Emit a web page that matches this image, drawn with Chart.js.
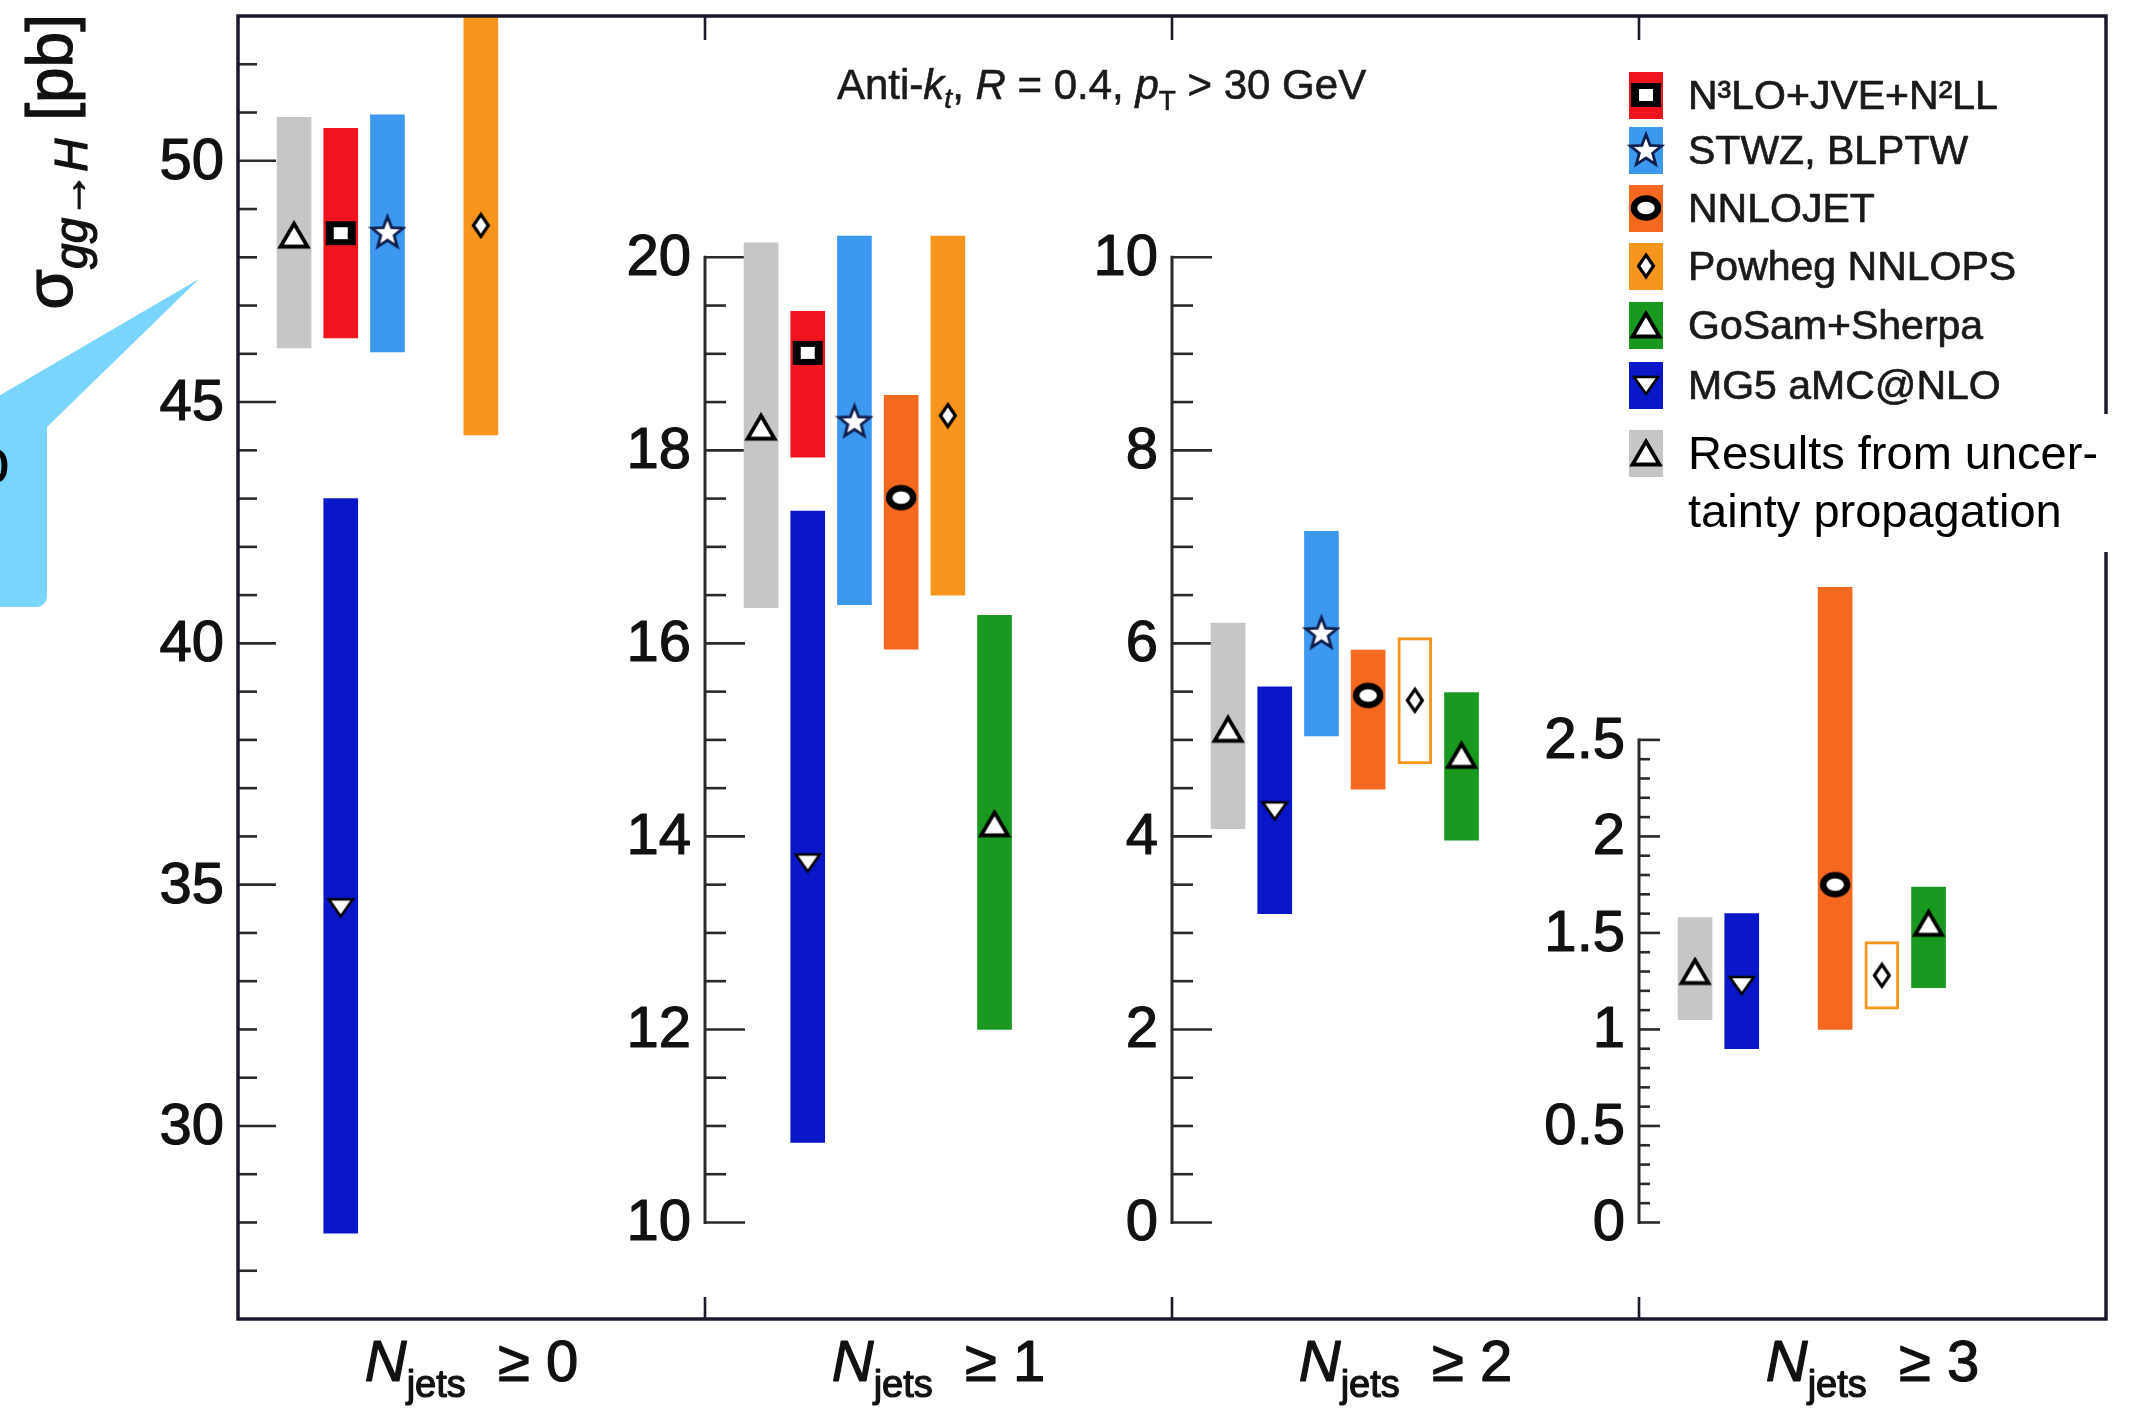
<!DOCTYPE html>
<html>
<head>
<meta charset="utf-8">
<title>Jet-binned gg→H cross sections</title>
<script src="https://cdn.jsdelivr.net/npm/chart.js@4.4.1/dist/chart.umd.min.js"></script>
<style>
  html, body { margin: 0; padding: 0; background: #ffffff; }
  #wrap { width: 2133px; height: 1410px; position: relative; }
</style>
</head>
<body>
<div id="wrap"><canvas id="chart" width="2133" height="1410"></canvas></div>
<script>
// ---------------- data ----------------
const jetBinLabels = ['\u2265 0', '\u2265 1', '\u2265 2', '\u2265 3'];

const modelNames = ['N\u00b3LO+JVE+N\u00b2LL', 'STWZ, BLPTW', 'NNLOJET', 'Powheg NNLOPS', 'GoSam+Sherpa', 'MG5 aMC@NLO'];
const propagationLines = ['Results from uncer-', 'tainty propagation'];

// cross sections in pb, one entry per jet bin (null: no prediction shown)
const n3loCentral = [48.50, 19.01, null, null];
const n3loLow     = [46.33, 17.93, null, null];
const n3loHigh    = [50.67, 19.44, null, null];

const stwzCentral = [48.52, 18.30, 6.11, null];
const stwzLow     = [46.04, 16.40, 5.04, null];
const stwzHigh    = [50.95, 20.22, 7.16, null];

const nnlojetCentral = [null, 17.51, 5.46, 1.75];
const nnlojetLow     = [null, 15.94, 4.49, 1.00];
const nnlojetHigh    = [null, 18.57, 5.93, 3.29];

const powhegCentral = [48.66, 18.36, 5.41, 1.28];
const powhegLow     = [44.32, 16.50, 4.75, 1.105];
const powhegHigh    = [53.20, 20.22, 6.06, 1.455];

const gosamCentral = [null, 14.13, 4.84, 1.55];
const gosamLow     = [null, 12.00, 3.96, 1.216];
const gosamHigh    = [null, 16.29, 5.49, 1.738];

const mg5Central = [34.53, 13.73, 4.27, 1.23];
const mg5Low     = [27.78, 10.83, 3.20, 0.90];
const mg5High    = [43.00, 17.37, 5.55, 1.60];

const propCentral = [48.46, 18.24, 5.11, 1.30];
const propLow     = [46.12, 16.37, 4.08, 1.05];
const propHigh    = [50.90, 20.15, 6.21, 1.58];

// labelled ticks of the four y axes
const yTicks0 = [30, 35, 40, 45, 50];
const yTicks1 = [10, 12, 14, 16, 18, 20];
const yTicks2 = [0, 2, 4, 6, 8, 10];
const yTicks3 = [0, 0.5, 1, 1.5, 2, 2.5];

// ---------------- styling ----------------
const FONT = '"Liberation Sans", Arial, Helvetica, sans-serif';
const INK = '#111111';
const AXIS = '#2a2a2a';
const FRAME = '#1a1a2c';

// one vertical scale per jet bin
const panels = [
  { ticks: yTicks0, min: 26,   max: 53,   minor: 1,   from: 27, to: 52,  majorLen: 38, minorLen: 19, ownLine: false },
  { ticks: yTicks1, min: 9,    max: 22.5, minor: 0.5, from: 10, to: 20,  majorLen: 40, minorLen: 21, ownLine: true },
  { ticks: yTicks2, min: -1,   max: 12.5, minor: 0.5, from: 0,  to: 10,  majorLen: 40, minorLen: 21, ownLine: true },
  { ticks: yTicks3, min: -0.5, max: 6.25, minor: 0.1, from: 0,  to: 2.5, majorLen: 21, minorLen: 11, ownLine: true }
];

// band positions inside a jet bin (in units of the bin width)
const SLOT0 = 0.12, SLOT_STEP = 0.1;

function markerCanvas(w, h, draw) {
  const c = document.createElement('canvas');
  c.width = w; c.height = h;
  const g = c.getContext('2d');
  draw(g, w, h);
  return c;
}

const markers = {
  up: markerCanvas(34, 30, g => {
    g.beginPath(); g.moveTo(17, 3.5); g.lineTo(30.5, 26.5); g.lineTo(3.5, 26.5); g.closePath();
    g.fillStyle = '#fff'; g.fill();
    g.lineWidth = 3.8; g.strokeStyle = '#000'; g.lineJoin = 'miter'; g.stroke();
  }),
  down: markerCanvas(30, 24, g => {
    g.beginPath(); g.moveTo(3, 4); g.lineTo(27, 4); g.lineTo(15, 21); g.closePath();
    g.fillStyle = '#fff'; g.fill();
    g.lineWidth = 2.6; g.strokeStyle = '#000'; g.stroke();
  }),
  square: markerCanvas(32, 28, g => {
    g.fillStyle = '#000'; g.fillRect(1, 2, 30, 24);
    g.fillStyle = '#fff'; g.fillRect(9, 8, 14, 12);
  }),
  star: markerCanvas(38, 38, g => {
    g.beginPath();
    for (let k = 0; k < 10; k++) {
      const r = k % 2 === 0 ? 16.5 : 7;
      const a = -Math.PI / 2 + k * Math.PI / 5;
      const px = 19 + r * Math.cos(a), py = 20 + r * Math.sin(a);
      if (k === 0) g.moveTo(px, py); else g.lineTo(px, py);
    }
    g.closePath();
    g.fillStyle = '#fff'; g.fill();
    g.lineWidth = 2.8; g.strokeStyle = '#0f1f4d'; g.lineJoin = 'miter'; g.stroke();
  }),
  ring: markerCanvas(34, 30, g => {
    g.beginPath(); g.ellipse(17, 15, 12, 9.5, 0, 0, Math.PI * 2);
    g.fillStyle = '#fff'; g.fill();
    g.lineWidth = 6.5; g.strokeStyle = '#000'; g.stroke();
  }),
  diamond: markerCanvas(22, 28, g => {
    g.beginPath(); g.moveTo(11, 3); g.lineTo(18.5, 14); g.lineTo(11, 25); g.lineTo(3.5, 14); g.closePath();
    g.fillStyle = '#fff'; g.fill();
    g.lineWidth = 3.2; g.strokeStyle = '#000'; g.stroke();
  })
};

const series = [
  { central: propCentral,    low: propLow,    high: propHigh,    slot: 0, color: '#c6c6c6', marker: 'up' },
  { central: n3loCentral,    low: n3loLow,    high: n3loHigh,    slot: 1, color: '#f0141f', marker: 'square',  legend: 0 },
  { central: mg5Central,     low: mg5Low,     high: mg5High,     slot: 1, color: '#0a17c8', marker: 'down',    legend: 5 },
  { central: stwzCentral,    low: stwzLow,    high: stwzHigh,    slot: 2, color: '#3d98f0', marker: 'star',    legend: 1 },
  { central: nnlojetCentral, low: nnlojetLow, high: nnlojetHigh, slot: 3, color: '#f4681f', marker: 'ring',    legend: 2 },
  { central: powhegCentral,  low: powhegLow,  high: powhegHigh,  slot: 4, color: '#f7951d', marker: 'diamond', legend: 3, openFromBin: 2 },
  { central: gosamCentral,   low: gosamLow,   high: gosamHigh,   slot: 5, color: '#19991f', marker: 'up',      legend: 4 }
];

// ---------------- datasets ----------------
const datasets = [];
series.forEach(s => {
  for (let b = 0; b < jetBinLabels.length; b++) {
    if (s.central[b] === null) continue;
    const x = b + SLOT0 + SLOT_STEP * s.slot;
    const open = s.openFromBin !== undefined && b >= s.openFromBin;
    datasets.push({
      type: 'bar',
      yAxisID: 'y' + b,
      data: [{ x: x, y: [s.low[b], s.high[b]] }],
      backgroundColor: open ? '#ffffff' : s.color,
      borderColor: s.color,
      borderWidth: open ? 3 : 0,
      borderSkipped: false,
      barThickness: 34,
      grouped: false,
      order: 2
    });
    datasets.push({
      type: 'scatter',
      yAxisID: 'y' + b,
      data: [{ x: x, y: s.central[b] }],
      pointStyle: markers[s.marker],
      pointRadius: 10,
      order: 1
    });
  }
});

// ---------------- drawing helpers ----------------
function fontOf(p) { return (p.italic ? 'italic ' : '') + p.size + 'px ' + FONT; }
function richWidth(ctx, parts) {
  let w = 0;
  parts.forEach(p => { ctx.font = fontOf(p); w += ctx.measureText(p.t).width; });
  return w;
}
// text with a thin outline of its own colour, for the heavier print look
function heavyText(ctx, text, x, y, weight) {
  ctx.fillText(text, x, y);
  if (weight > 0) {
    ctx.lineWidth = weight;
    ctx.strokeStyle = ctx.fillStyle;
    ctx.lineJoin = 'round';
    ctx.strokeText(text, x, y);
  }
}
function drawRich(ctx, parts, x, y, weight) {
  let cx = x;
  ctx.textAlign = 'left';
  ctx.textBaseline = 'alphabetic';
  parts.forEach(p => {
    ctx.font = fontOf(p);
    heavyText(ctx, p.t, cx, y + (p.dy || 0), weight || 0);
    cx += ctx.measureText(p.t).width;
  });
}
function line(ctx, x1, y1, x2, y2) {
  ctx.beginPath(); ctx.moveTo(x1, y1); ctx.lineTo(x2, y2); ctx.stroke();
}

const panelPlugin = {
  id: 'jetPanels',
  beforeDatasetsDraw(chart) {
    const ctx = chart.ctx;
    const xs = chart.scales.x;
    ctx.save();
    panels.forEach((p, i) => {
      const ys = chart.scales['y' + i];
      const x0 = xs.getPixelForValue(i);
      ctx.strokeStyle = AXIS;
      ctx.lineCap = 'butt';
      if (p.ownLine) {
        ctx.lineWidth = 3;
        line(ctx, x0, ys.getPixelForValue(p.from) + 1.5, x0, ys.getPixelForValue(p.to) - 1.5);
      }
      ctx.lineWidth = 2.6;
      const n = Math.round((p.to - p.from) / p.minor);
      for (let k = 0; k <= n; k++) {
        const v = p.from + k * p.minor;
        const major = p.ticks.some(t => Math.abs(t - v) < 1e-6);
        const y = ys.getPixelForValue(v);
        line(ctx, x0, y, x0 + (major ? p.majorLen : p.minorLen), y);
      }
      ctx.fillStyle = INK;
      ctx.font = '58px ' + FONT;
      ctx.textAlign = 'right';
      ctx.textBaseline = 'middle';
      p.ticks.forEach(t => heavyText(ctx, String(t), x0 - 14, ys.getPixelForValue(t) + 2, 1.2));
    });
    ctx.restore();
  },
  afterDatasetsDraw(chart) {
    const ctx = chart.ctx;
    const area = chart.chartArea;
    const xs = chart.scales.x;
    ctx.save();

    // frame and bin boundary ticks
    ctx.strokeStyle = FRAME;
    ctx.lineWidth = 3.5;
    ctx.strokeRect(area.left, area.top, area.right - area.left, area.bottom - area.top);
    ctx.lineWidth = 2.6;
    for (let i = 1; i < jetBinLabels.length; i++) {
      const x = xs.getPixelForValue(i);
      line(ctx, x, area.top, x, area.top + 24);
      line(ctx, x, area.bottom, x, area.bottom - 22);
    }

    // jet-bin labels
    ctx.fillStyle = INK;
    jetBinLabels.forEach((lab, i) => {
      const parts = [
        { t: 'N', size: 58, italic: true },
        { t: 'jets', size: 38, dy: 16 },
        { t: '  ' + lab, size: 58 }
      ];
      const w = richWidth(ctx, parts);
      drawRich(ctx, parts, xs.getPixelForValue(i + 0.5) - w / 2, 1381, 1.2);
    });

    // y-axis title
    const title = [
      { t: '\u03c3', size: 66 },
      { t: 'gg\u2192H', size: 46, italic: true, dy: 15 },
      { t: ' [pb]', size: 64 }
    ];
    const tw = richWidth(ctx, title);
    ctx.save();
    ctx.translate(72, 14 + tw);
    ctx.rotate(-Math.PI / 2);
    drawRich(ctx, title, 0, 0, 1.2);
    ctx.restore();

    // jet definition
    ctx.fillStyle = '#1a1a1a';
    drawRich(ctx, [
      { t: 'Anti-', size: 42 },
      { t: 'k', size: 42, italic: true },
      { t: 't', size: 28, italic: true, dy: 9 },
      { t: ', ', size: 42 },
      { t: 'R', size: 42, italic: true },
      { t: ' = 0.4, ', size: 42 },
      { t: 'p', size: 42, italic: true },
      { t: 'T', size: 28, dy: 11 },
      { t: ' > 30 GeV', size: 42 }
    ], 837, 99, 0.6);

    // legend
    const rowY = [95, 150, 208, 266, 325, 385];
    series.forEach(s => {
      if (s.legend === undefined) return;
      const cy = rowY[s.legend];
      ctx.fillStyle = s.color;
      ctx.fillRect(1629, cy - 23, 34, 47);
      const m = markers[s.marker];
      ctx.drawImage(m, 1646 - m.width / 2, cy - m.height / 2);
      ctx.fillStyle = '#1a1a1a';
      ctx.font = '41px ' + FONT;
      ctx.textAlign = 'left';
      ctx.textBaseline = 'alphabetic';
      heavyText(ctx, modelNames[s.legend], 1688, cy + 14, 0.7);
    });

    // uncertainty-propagation entry on its own white panel
    ctx.fillStyle = '#ffffff';
    ctx.fillRect(1626, 414, 507, 138);
    ctx.fillStyle = series[0].color;
    ctx.fillRect(1629, 430, 34, 47);
    const up = markers.up;
    ctx.drawImage(up, 1646 - up.width / 2, 453 - up.height / 2);
    ctx.fillStyle = '#000000';
    ctx.font = '47px ' + FONT;
    ctx.textAlign = 'left';
    ctx.fillText(propagationLines[0], 1688, 469);
    ctx.fillText(propagationLines[1], 1688, 527);

    // callout bubble at the left edge
    ctx.fillStyle = '#79d5fe';
    ctx.beginPath();
    ctx.moveTo(-10, 401);
    ctx.lineTo(199, 279);
    ctx.lineTo(47, 427);
    ctx.lineTo(47, 596);
    ctx.arcTo(47, 607, 36, 607, 11);
    ctx.lineTo(-10, 607);
    ctx.closePath();
    ctx.fill();
    ctx.fillStyle = '#000000';
    ctx.font = '64px ' + FONT;
    ctx.textAlign = 'right';
    ctx.fillText('o', 10, 483);

    ctx.restore();
  }
};

const yScales = {};
panels.forEach((p, i) => {
  yScales['y' + i] = {
    type: 'linear', position: 'left', display: false,
    min: p.min, max: p.max, bounds: 'data', beginAtZero: false
  };
});

new Chart(document.getElementById('chart'), {
  type: 'bar',
  data: { datasets: datasets },
  options: {
    responsive: false,
    devicePixelRatio: 1,
    animation: false,
    events: [],
    layout: { padding: { left: 238, right: 27, top: 16, bottom: 91 } },
    plugins: { legend: { display: false }, tooltip: { enabled: false } },
    scales: Object.assign({
      x: { type: 'linear', min: 0, max: 4, display: false, offset: false }
    }, yScales)
  },
  plugins: [panelPlugin]
});
</script>
</body>
</html>
